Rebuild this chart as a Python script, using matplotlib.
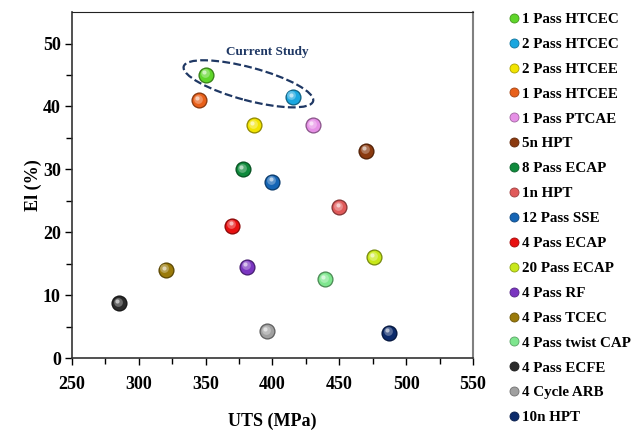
import numpy as np
import matplotlib
matplotlib.use("Agg")
import matplotlib.pyplot as plt
from matplotlib.patches import Ellipse
from matplotlib.lines import Line2D
from matplotlib.transforms import ScaledTranslation
from matplotlib.colors import to_rgb

# ==========================
# Data
# ==========================

labels = ["1 Pass HTCEC", "2 Pass HTCEC", "2 Pass HTCEE", "1 Pass HTCEE",
          "1 Pass PTCAE", "5n HPT", "8 Pass ECAP", "1n HPT", "12 Pass SSE",
          "4 Pass ECAP", "20 Pass ECAP", "4 Pass RF", "4 Pass TCEC",
          "4 Pass twist CAP", "4 Pass ECFE", "4 Cycle ARB", "10n HPT"]
uts = [350, 415, 386, 345, 430, 470, 378, 450, 400, 370, 476, 381, 320, 439, 285, 396, 487]
elong = [45, 41.5, 37, 41, 37, 33, 30, 24, 28, 21, 16, 14.5, 14, 12.5, 8.7, 4.3, 4.0]
colors = ["#5fd62a", "#1aa7e0", "#f2e400", "#e8601a", "#e690e6", "#8b3a0f",
          "#0f8a3c", "#e05a5a", "#1565b5", "#e81010", "#c8e81a", "#7a35c0",
          "#9a7a0a", "#7ee68e", "#2a2a2a", "#a0a0a0", "#0c2a6a"]

FONT = "Liberation Serif"
plt.rcParams["font.family"] = FONT
plt.rcParams["font.weight"] = "bold"


def shade(c, f):
    r = np.array(to_rgb(c))
    if f < 0:
        return tuple(r * (1 + f))
    return tuple(r + (1 - r) * f)


fig = plt.figure(figsize=(6.37, 4.32), dpi=100)
ax = fig.add_axes([0.113, 0.171, 0.6295, 0.801])

# sphere-like markers: stacked circles getting lighter toward upper-left
for x, y, c in zip(uts, elong, colors):
    ax.scatter([x], [y], s=135, color=shade(c, -0.4), zorder=3, linewidths=0)
    ax.scatter([x], [y], s=95, color=c, zorder=4, linewidths=0)
    ax.scatter([x - 0.8], [y + 0.25], s=40, color=shade(c, 0.3), zorder=5, linewidths=0)
    ax.scatter([x - 1.3], [y + 0.4], s=9, color=shade(c, 0.7), zorder=6, linewidths=0)

# dashed ellipse around current study
ell_tr = fig.dpi_scale_trans + ScaledTranslation(382, 43.6, ax.transData)
ax.add_patch(Ellipse((0, 0), 1.34, 0.33, angle=-15, transform=ell_tr,
                     fill=False, ls=(0, (3.5, 1.5)), lw=1.6, ec="#1f3864", zorder=2))
ax.text(396, 48.7, "Current Study", ha="center", va="center", fontsize=9.5,
        fontweight="bold", color="#1f3864")

ax.set_xlim(250, 550)
ax.set_ylim(0, 55)
ax.set_xticks(np.arange(250, 551, 50))
ax.set_xticks(np.arange(275, 550, 50), minor=True)
ax.set_yticks(np.arange(0, 51, 10))
ax.set_yticks(np.arange(5, 55, 10), minor=True)
ax.tick_params(which="major", length=5, width=1, labelsize=13, direction="out", pad=3)
ax.tick_params(which="minor", length=4, width=1, direction="out")
ax.tick_params(axis="x", pad=8)
for lab in ax.get_xticklabels() + ax.get_yticklabels():
    lab.set_fontweight("bold")

for side in ["left", "bottom"]:
    ax.spines[side].set_color("#333333")
    ax.spines[side].set_linewidth(1.2)
ax.spines["top"].set_color("#222222")
ax.spines["right"].set_color("#808080")
ax.spines["right"].set_linewidth(1.5)

ax.set_xlabel("UTS (MPa)", fontsize=13, fontweight="bold", labelpad=14)
ax.set_ylabel("El (%)", fontsize=13, fontweight="bold", labelpad=1)

handles = [Line2D([], [], ls="none", marker="o", markersize=6.5, color=c,
                  markeredgecolor=shade(c, -0.3), markeredgewidth=0.6) for c in colors]
fig.legend(handles, labels, loc="upper left", bbox_to_anchor=(0.79, 0.985),
           frameon=False, prop={"family": FONT, "weight": "bold", "size": 10.8},
           handlelength=0.6, handletextpad=0.25, labelspacing=0.76,
           borderaxespad=0)

fig.savefig("out.png", dpi=100)
